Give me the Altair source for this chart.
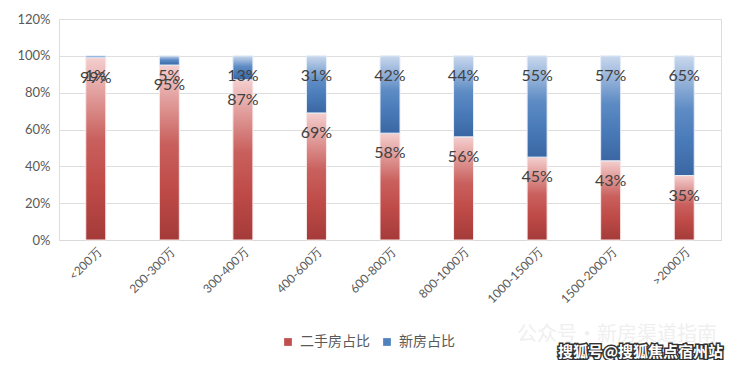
import altair as alt
import pandas as pd

categories = ["<200万", "200-300万", "300-400万", "400-600万", "600-800万",
              "800-1000万", "1000-1500万", "1500-2000万", ">2000万"]
second_hand = [99, 95, 87, 69, 58, 56, 45, 43, 35]
new_home = [1, 5, 13, 31, 42, 44, 55, 57, 65]
legend_labels = ["二手房占比", "新房占比"]
y_ticks = [0, 0.2, 0.4, 0.6, 0.8, 1.0, 1.2]
watermark_main = "搜狐号@搜狐焦点宿州站"
watermark_faint = "公众号·新房渠道指南"

df = pd.DataFrame({
    "category": categories,
    "second": [v / 100 for v in second_hand],
    "new": [v / 100 for v in new_home],
})
df["total"] = df["second"] + df["new"]

FONT = "Lato"
CJK = "Noto Sans CJK SC"

red_grad = alt.Gradient(
    gradient="linear", x1=0, x2=0, y1=0, y2=1,
    stops=[alt.GradientStop(color="#f4cfce", offset=0),
           alt.GradientStop(color="#c9605d", offset=0.45),
           alt.GradientStop(color="#bf4b48", offset=0.7),
           alt.GradientStop(color="#a43b39", offset=1)])
blue_grad = alt.Gradient(
    gradient="linear", x1=0, x2=0, y1=0, y2=1,
    stops=[alt.GradientStop(color="#c9d8ed", offset=0),
           alt.GradientStop(color="#5d8bc4", offset=0.45),
           alt.GradientStop(color="#4a7bb9", offset=0.7),
           alt.GradientStop(color="#3a67a3", offset=1)])

x_axis = alt.Axis(labelAngle=-45, ticks=False, domainColor="#d9d9d9",
                  labelColor="#595959", labelFontSize=12, labelFont=FONT,
                  labelPadding=6, labelOverlap=False)
y_axis = alt.Axis(values=y_ticks, format=".0%", domain=False, ticks=False,
                  labelColor="#595959", labelFontSize=13, labelFont=FONT,
                  labelPadding=9, gridColor="#dedede", labelOverlap=False)
y_scale = alt.Scale(domain=[0, 1.2], nice=False)


def X():
    return alt.X("category:N", sort=categories, title=None, axis=x_axis)


def Y(field):
    return alt.Y(field, scale=y_scale, title=None, axis=y_axis)


base = alt.Chart(df)

red = base.mark_bar(size=20, color=red_grad, stroke="#fbe9e9", strokeWidth=1).encode(
    x=X(), y=Y("second:Q"),
)
blue = base.mark_bar(size=20, color=blue_grad, stroke="#e6eef8", strokeWidth=1).encode(
    x=X(), y=Y("total:Q"), y2="second:Q",
)
red_text = base.mark_text(dy=20, baseline="middle", fontSize=16, font=FONT,
                          color="#404040").encode(
    x=X(), y=Y("second:Q"),
    text=alt.Text("second:Q", format=".0%"),
)
blue_text = base.mark_text(dy=20, baseline="middle", fontSize=16, font=FONT,
                           color="#404040").encode(
    x=X(), y=Y("total:Q"),
    text=alt.Text("new:Q", format=".0%"),
)

leg_df = pd.DataFrame({"series": legend_labels,
                       "category": [categories[0]] * 2,
                       "v": [0.0, 0.0]})
legend_layer = alt.Chart(leg_df).mark_square(opacity=0).encode(
    x=X(), y=Y("v:Q"),
    color=alt.Color("series:N", sort=legend_labels,
                    scale=alt.Scale(domain=legend_labels, range=["#c0504d", "#4f81bd"]),
                    legend=alt.Legend(title=None, orient="none", legendX=222, legendY=316,
                                      direction="horizontal", symbolType="square",
                                      symbolSize=60, symbolOpacity=1, symbolStrokeWidth=0,
                                      labelFontSize=14, labelFont=CJK,
                                      labelColor="#595959", columnPadding=10,
                                      labelOffset=5)),
)

wm_df = pd.DataFrame({"t": [watermark_main], "f": [watermark_faint]})
wm_faint = alt.Chart(wm_df).mark_text(align="right", baseline="middle", fontSize=20,
                                      font=CJK, color="#efefef").encode(
    x=alt.value(658), y=alt.value(316), text="f:N")
wm_back = alt.Chart(wm_df).mark_text(align="right", baseline="middle", fontSize=15,
                                     font=CJK, fontWeight="bold", color="#333333",
                                     stroke="#333333", strokeWidth=3).encode(
    x=alt.value(664), y=alt.value(333), text="t:N")
wm_front = alt.Chart(wm_df).mark_text(align="right", baseline="middle", fontSize=15,
                                      font=CJK, fontWeight="bold", color="#ffffff").encode(
    x=alt.value(664), y=alt.value(333), text="t:N")

chart = alt.layer(red, blue, red_text, blue_text, legend_layer,
                  wm_faint, wm_back, wm_front).properties(
    width=662, height=221,
    autosize=alt.AutoSizeParams(type="none"),
    padding={"left": 51, "top": 11, "right": 11, "bottom": 120},
).configure_view(stroke=None).configure(background="#ffffff")

chart.save("out.html", embed_options={"renderer": "svg", "actions": False})
